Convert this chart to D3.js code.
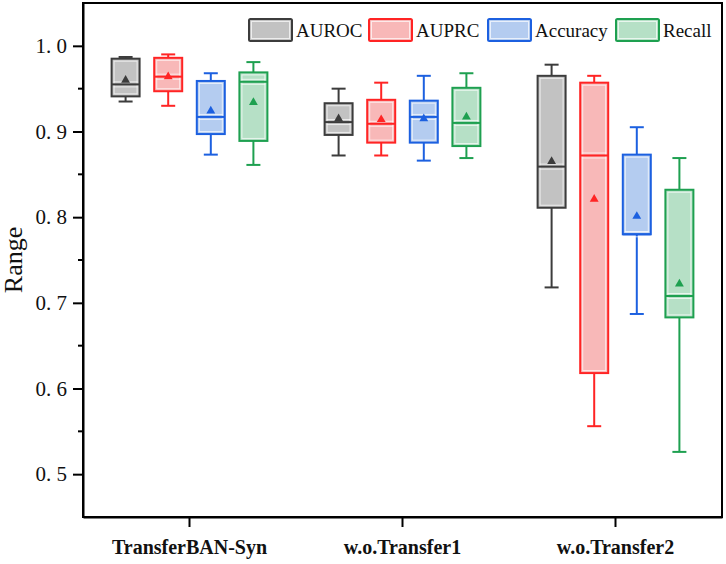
<!DOCTYPE html>
<html>
<head>
<meta charset="utf-8">
<script src="https://cdn.jsdelivr.net/npm/d3@7"></script>
<style>
  body { margin: 0; background: #fff; }
  text { font-family: "Liberation Serif", "Times New Roman", serif; }
</style>
</head>
<body>
<svg id="chart" width="726" height="564"></svg>
<script>
// groups on the x axis and the four metrics
const groups = ["TransferBAN-Syn", "w.o.Transfer1", "w.o.Transfer2"];
const metrics = ["AUROC", "AUPRC", "Accuracy", "Recall"];
const yTicks = [0.5, 0.6, 0.7, 0.8, 0.9, 1.0];

// box stats per metric, one entry per group: [min, q1, median, q3, max, mean]
const aurocStats = [
  [0.935, 0.941, 0.955, 0.985, 0.987, 0.960],
  [0.872, 0.896, 0.911, 0.933, 0.950, 0.915],
  [0.718, 0.811, 0.859, 0.965, 0.978, 0.865]
];
const auprcStats = [
  [0.930, 0.947, 0.964, 0.986, 0.990, 0.964],
  [0.872, 0.887, 0.909, 0.937, 0.957, 0.914],
  [0.556, 0.618, 0.872, 0.957, 0.965, 0.821]
];
const accuracyStats = [
  [0.873, 0.897, 0.917, 0.959, 0.968, 0.924],
  [0.866, 0.887, 0.917, 0.936, 0.965, 0.915],
  [0.687, 0.780, 0.780, 0.873, 0.905, 0.801]
];
const recallStats = [
  [0.861, 0.889, 0.958, 0.969, 0.981, 0.934],
  [0.869, 0.883, 0.910, 0.951, 0.968, 0.917],
  [0.526, 0.683, 0.708, 0.832, 0.869, 0.722]
];

const strokeColors = ["#3c3c3c", "#ff2424", "#1c60e0", "#1ea050"];
const fillColors = ["#c2c2c2", "#f8b8b8", "#b4ccf0", "#b6e0c6"];

const statsByMetric = [aurocStats, auprcStats, accuracyStats, recallStats];
const boxes = [];
groups.forEach((g, gi) => {
  metrics.forEach((m, mi) => {
    const s = statsByMetric[mi][gi];
    boxes.push({ group: g, metric: m, mi, min: s[0], q1: s[1], med: s[2], q3: s[3], max: s[4], mean: s[5] });
  });
});

const W = 726, H = 564;
const margin = { top: 3, right: 4, bottom: 47, left: 83 };
const serif = "'Liberation Serif', 'Times New Roman', serif";
const svg = d3.select("#chart");

const x = d3.scaleBand().domain(groups).range([margin.left, W - margin.right]).padding(0);
const xi = d3.scaleBand().domain(metrics).range([0, x.bandwidth()]).paddingOuter(0.5).paddingInner(0);
const y = d3.scaleLinear().domain([0.45, 1.05]).range([H - margin.bottom, margin.top]);

const boxW = 28, capW = 14;

// frame
svg.append("rect")
  .attr("x", margin.left).attr("y", margin.top)
  .attr("width", W - margin.left - margin.right)
  .attr("height", H - margin.top - margin.bottom)
  .attr("fill", "none").attr("stroke", "#000").attr("stroke-width", 2);

// y axis
const yAxis = svg.append("g")
  .attr("transform", `translate(${margin.left},0)`)
  .attr("font-family", serif)
  .call(d3.axisLeft(y).tickValues(yTicks).tickSize(10).tickSizeOuter(0).tickPadding(6)
    .tickFormat(d => d3.format(".1f")(d).replace(".", ". ")));
yAxis.select(".domain").attr("stroke-width", 2);
yAxis.selectAll(".tick line").attr("stroke-width", 2);
yAxis.selectAll("text").attr("font-size", 21).attr("fill", "#111")
  .style("font-family", serif);

// minor ticks
svg.append("g").selectAll("line")
  .data([0.55, 0.65, 0.75, 0.85, 0.95])
  .join("line")
  .attr("x1", margin.left - 5).attr("x2", margin.left)
  .attr("y1", d => y(d)).attr("y2", d => y(d))
  .attr("stroke", "#000").attr("stroke-width", 2);

// x axis
const xAxis = svg.append("g")
  .attr("transform", `translate(0,${H - margin.bottom})`)
  .attr("font-family", serif)
  .call(d3.axisBottom(x).tickSize(10).tickSizeOuter(0).tickPadding(13));
xAxis.select(".domain").attr("stroke-width", 2);
xAxis.selectAll(".tick line").attr("stroke-width", 2);
xAxis.selectAll("text").attr("font-size", 20).attr("font-weight", "bold").attr("fill", "#111")
  .style("font-family", serif);

// y label
svg.append("text")
  .attr("transform", `translate(22,${(margin.top + H - margin.bottom) / 2}) rotate(-90)`)
  .attr("text-anchor", "middle")
  .attr("font-size", 26)
  .attr("fill", "#111")
  .style("font-family", serif)
  .text("Range");

// boxes
const bx = d => x(d.group) + xi(d.metric) + xi.bandwidth() / 2;
const gBox = svg.append("g").selectAll("g").data(boxes).join("g");

gBox.append("line")
  .attr("x1", bx).attr("x2", bx)
  .attr("y1", d => y(d.max)).attr("y2", d => y(d.q3))
  .attr("stroke", d => strokeColors[d.mi]).attr("stroke-width", 2);
gBox.append("line")
  .attr("x1", bx).attr("x2", bx)
  .attr("y1", d => y(d.q1)).attr("y2", d => y(d.min))
  .attr("stroke", d => strokeColors[d.mi]).attr("stroke-width", 2);
["max", "min"].forEach(k => {
  gBox.append("line")
    .attr("x1", d => bx(d) - capW / 2).attr("x2", d => bx(d) + capW / 2)
    .attr("y1", d => y(d[k])).attr("y2", d => y(d[k]))
    .attr("stroke", d => strokeColors[d.mi]).attr("stroke-width", 2);
});

gBox.append("rect")
  .attr("x", d => bx(d) - boxW / 2).attr("width", boxW)
  .attr("y", d => y(d.q3)).attr("height", d => y(d.q1) - y(d.q3))
  .attr("fill", d => fillColors[d.mi])
  .attr("stroke", d => strokeColors[d.mi]).attr("stroke-width", 2);
gBox.append("rect")
  .attr("x", d => bx(d) - boxW / 2 + 2.5).attr("width", boxW - 5)
  .attr("y", d => y(d.q3) + 2.5).attr("height", d => Math.max(0, y(d.q1) - y(d.q3) - 5))
  .attr("fill", "none").attr("stroke", "#fff").attr("stroke-opacity", 0.7).attr("stroke-width", 1);

// median with white halo lines
gBox.append("line")
  .attr("x1", d => bx(d) - boxW / 2 + 2).attr("x2", d => bx(d) + boxW / 2 - 2)
  .attr("y1", d => y(d.med) - 2.5).attr("y2", d => y(d.med) - 2.5)
  .attr("stroke", "#fff").attr("stroke-opacity", 0.7).attr("stroke-width", 1);
gBox.append("line")
  .attr("x1", d => bx(d) - boxW / 2 + 2).attr("x2", d => bx(d) + boxW / 2 - 2)
  .attr("y1", d => y(d.med) + 2.5).attr("y2", d => y(d.med) + 2.5)
  .attr("stroke", "#fff").attr("stroke-opacity", 0.7).attr("stroke-width", 1);
gBox.append("line")
  .attr("x1", d => bx(d) - boxW / 2).attr("x2", d => bx(d) + boxW / 2)
  .attr("y1", d => y(d.med)).attr("y2", d => y(d.med))
  .attr("stroke", d => strokeColors[d.mi]).attr("stroke-width", 2);

// mean triangles
gBox.append("path")
  .attr("d", d3.symbol(d3.symbolTriangle, 34))
  .attr("transform", d => `translate(${bx(d)},${y(d.mean)})`)
  .attr("fill", d => strokeColors[d.mi]);

// legend
const legendX = [249, 369, 488, 616];
const leg = svg.append("g").selectAll("g").data(metrics).join("g")
  .attr("transform", (d, i) => `translate(${legendX[i]},19)`);
leg.append("rect")
  .attr("width", 43).attr("height", 22).attr("rx", 1.5)
  .attr("fill", (d, i) => fillColors[i])
  .attr("stroke", (d, i) => strokeColors[i]).attr("stroke-width", 2);
leg.append("rect")
  .attr("x", 2.5).attr("y", 2.5).attr("width", 38).attr("height", 17)
  .attr("fill", "none").attr("stroke", "#fff").attr("stroke-opacity", 0.7).attr("stroke-width", 1);
leg.append("text")
  .attr("x", 47).attr("y", 17.5)
  .attr("font-size", 19).attr("fill", "#111")
  .style("font-family", serif)
  .text(d => d);
</script>
</body>
</html>
